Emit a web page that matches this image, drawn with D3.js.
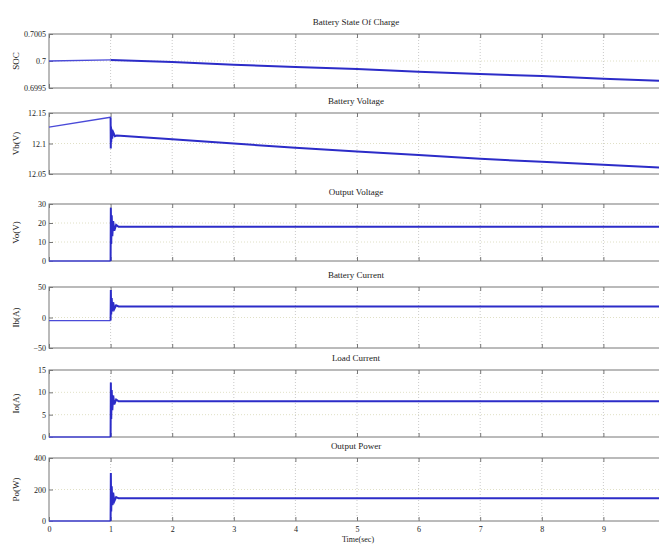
<!DOCTYPE html>
<html>
<head>
<meta charset="utf-8">
<script src="https://cdn.jsdelivr.net/npm/d3@7"></script>
<style>
  body { margin: 0; background: #fff; }
  svg text { font-family: "Liberation Serif", "DejaVu Serif", serif; fill: #222; }
  .tick text { font-size: 8px; }
</style>
</head>
<body>
<div id="chart"></div>
<script>

// time axis
var xTicks = [0, 1, 2, 3, 4, 5, 6, 7, 8, 9];

// Battery State Of Charge
var socT = [0, 1, 2, 3, 4, 5, 6, 7, 8, 9, 10];
var socV = [0.7, 0.70002, 0.69998, 0.69993, 0.69989, 0.69985, 0.6998, 0.69976, 0.69972, 0.69967, 0.69963];

// Battery Voltage
var vbT = [0, 0.999, 1.0, 1.003, 1.006, 1.01, 1.016, 1.025, 1.04, 1.07, 1.1, 2, 3, 4, 5, 6, 7, 8, 9, 10];
var vbV = [12.127, 12.143, 12.143, 12.092, 12.128, 12.102, 12.122, 12.108, 12.119, 12.112, 12.113, 12.107, 12.1, 12.093, 12.087, 12.081, 12.075, 12.07, 12.065, 12.06];

// Output Voltage
var voT = [0, 0.999, 1.0, 1.004, 1.01, 1.018, 1.028, 1.042, 1.06, 1.09, 1.13, 10];
var voV = [0, 0, 0, 28, 9, 24, 13, 21, 16, 19, 18, 18];

// Battery Current
var ibT = [0, 0.999, 1.0, 1.004, 1.01, 1.018, 1.028, 1.042, 1.06, 1.09, 1.13, 10];
var ibV = [-5, -5, -5, 45, 5, 32, 10, 25, 14, 20, 18, 18];

// Load Current
var ioT = [0, 0.999, 1.0, 1.004, 1.01, 1.018, 1.028, 1.042, 1.06, 1.09, 1.13, 10];
var ioV = [0, 0, 0, 12.2, 4, 10.5, 6, 9.3, 7.3, 8.4, 8, 8];

// Output Power
var poT = [0, 0.999, 1.0, 1.004, 1.01, 1.018, 1.028, 1.042, 1.06, 1.09, 1.13, 10];
var poV = [0, 0, 0, 305, 60, 220, 100, 180, 125, 152, 144, 144];

var panels = [
  { title: "Battery State Of Charge", label: "SOC", t: socT, v: socV, domain: [0.6995, 0.7005], ticks: [0.6995, 0.7, 0.7005], fmt: function (d) { return d === 0.7 ? "0.7" : d.toFixed(4); }, top: 34, bottom: 88 },
  { title: "Battery Voltage", label: "Vb(V)", t: vbT, v: vbV, domain: [12.05, 12.15], ticks: [12.05, 12.1, 12.15], fmt: function (d) { return d === 12.1 ? "12.1" : d.toFixed(2); }, top: 113, bottom: 174 },
  { title: "Output Voltage", label: "Vo(V)", t: voT, v: voV, domain: [0, 30], ticks: [0, 10, 20, 30], fmt: d3.format("d"), top: 204, bottom: 261 },
  { title: "Battery Current", label: "Ib(A)", t: ibT, v: ibV, domain: [-50, 50], ticks: [-50, 0, 50], fmt: d3.format("d"), top: 287, bottom: 348 },
  { title: "Load Current", label: "Io(A)", t: ioT, v: ioV, domain: [0, 15], ticks: [0, 5, 10, 15], fmt: d3.format("d"), top: 370, bottom: 437 },
  { title: "Output Power", label: "Po(W)", t: poT, v: poV, domain: [0, 400], ticks: [0, 200, 400], fmt: d3.format("d"), top: 458, bottom: 521 }
];

var width = 659, height = 545;
var left = 49, right = 665;

var svg = d3.select("#chart").append("svg")
  .attr("width", width)
  .attr("height", height);

var x = d3.scaleLinear().domain([0, 10]).range([left, right]);

panels.forEach(function (p) {
  var y = d3.scaleLinear().domain(p.domain).range([p.bottom, p.top]);
  var g = svg.append("g");

  // dotted grid
  g.selectAll(".vgrid").data(xTicks.slice(1)).enter().append("line")
    .attr("x1", function (d) { return x(d); }).attr("x2", function (d) { return x(d); })
    .attr("y1", p.top).attr("y2", p.bottom)
    .attr("stroke", "#bbb").attr("stroke-dasharray", "1,2").attr("stroke-width", 0.8);
  g.selectAll(".hgrid").data(p.ticks.slice(1, -1)).enter().append("line")
    .attr("x1", left).attr("x2", right)
    .attr("y1", function (d) { return y(d); }).attr("y2", function (d) { return y(d); })
    .attr("stroke", "#d8d8b8").attr("stroke-dasharray", "1,2").attr("stroke-width", 0.8);

  // axes with inward ticks
  var yAxis = d3.axisLeft(y).tickValues(p.ticks).tickFormat(p.fmt).tickSize(-4).tickPadding(3);
  var ya = g.append("g").attr("transform", "translate(" + left + ",0)").call(yAxis);
  ya.select(".domain").remove();
  ya.selectAll(".tick line").attr("stroke", "#777");

  var xBottom = d3.axisBottom(x).tickValues(xTicks).tickSize(-4).tickFormat(function () { return ""; });
  var xb = g.append("g").attr("transform", "translate(0," + p.bottom + ")").call(xBottom);
  xb.select(".domain").remove();
  xb.selectAll(".tick line").attr("stroke", "#777");
  var xTop = d3.axisTop(x).tickValues(xTicks).tickSize(-4).tickFormat(function () { return ""; });
  var xt = g.append("g").attr("transform", "translate(0," + p.top + ")").call(xTop);
  xt.select(".domain").remove();
  xt.selectAll(".tick line").attr("stroke", "#777");

  // frame
  g.append("rect")
    .attr("x", left).attr("y", p.top)
    .attr("width", right - left).attr("height", p.bottom - p.top)
    .attr("fill", "none").attr("stroke", "#777").attr("stroke-width", 1);

  // signal
  var pts = p.t.map(function (t, i) { return [t, p.v[i]]; });
  var line = d3.line().x(function (d) { return x(d[0]); }).y(function (d) { return y(d[1]); });
  g.append("path")
    .datum(pts.filter(function (d) { return d[0] <= 1.0; }))
    .attr("d", line).attr("fill", "none").attr("stroke", "#4a4ad8").attr("stroke-width", 1.3);
  g.append("path")
    .datum(pts.filter(function (d) { return d[0] >= 1.0; }))
    .attr("d", line).attr("fill", "none").attr("stroke", "#2c2cc8").attr("stroke-width", 2);

  // title and label
  svg.append("text")
    .attr("x", 356).attr("y", p.top - 9)
    .attr("text-anchor", "middle").style("font-size", "9px")
    .text(p.title);
  svg.append("text")
    .attr("transform", "translate(19," + ((p.top + p.bottom) / 2) + ") rotate(-90)")
    .attr("text-anchor", "middle").style("font-size", "9px")
    .text(p.label);
});

// x tick labels on the last panel
var last = panels[panels.length - 1];
svg.append("g")
  .attr("transform", "translate(0," + last.bottom + ")")
  .call(d3.axisBottom(x).tickValues(xTicks).tickSize(0).tickPadding(5).tickFormat(d3.format("d")))
  .call(function (a) { a.select(".domain").remove(); });

svg.append("text")
  .attr("x", 358).attr("y", 542)
  .attr("text-anchor", "middle").style("font-size", "8px")
  .text("Time(sec)");

</script>
</body>
</html>
